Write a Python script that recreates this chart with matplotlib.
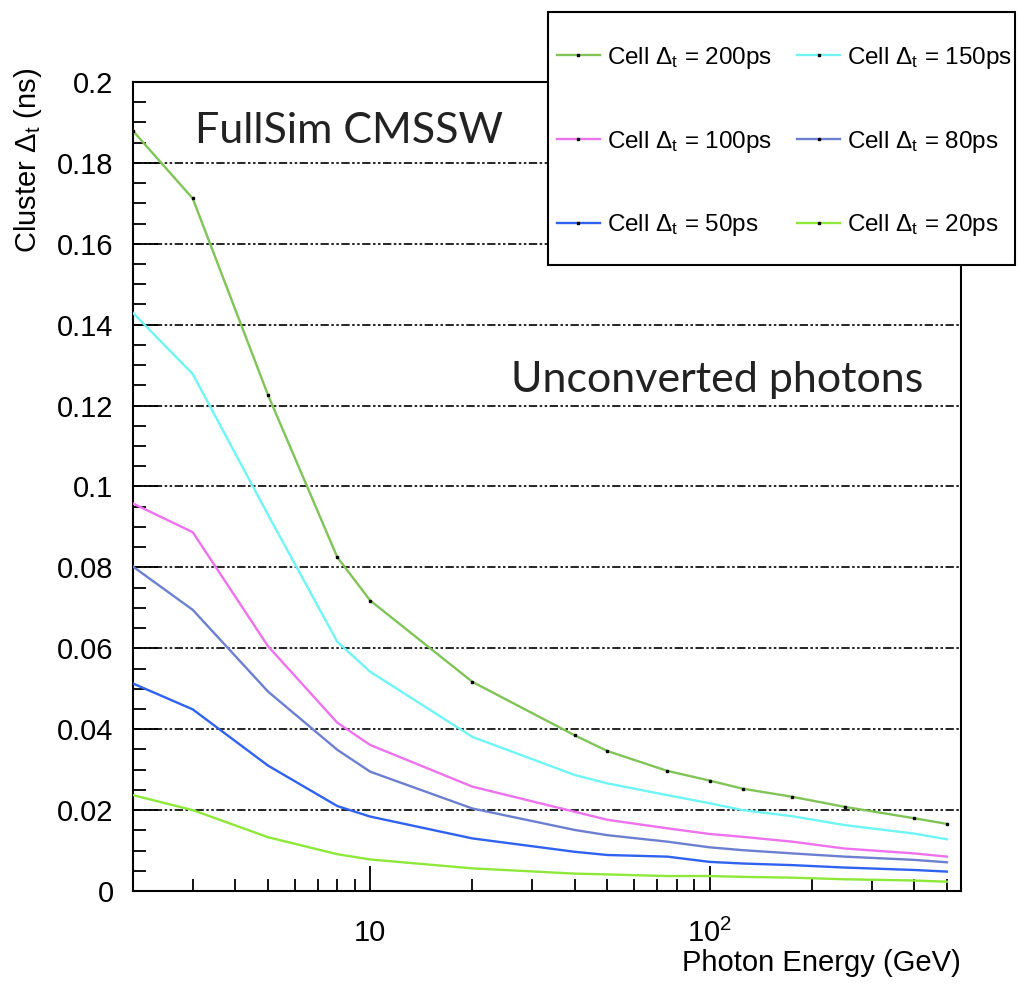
import matplotlib
matplotlib.use("Agg")
import matplotlib.pyplot as plt
from matplotlib.lines import Line2D
from matplotlib.patches import Rectangle
from matplotlib.ticker import LogLocator, MultipleLocator, FuncFormatter, NullFormatter

plt.rcParams['font.family'] = ['Liberation Sans', 'DejaVu Sans']
plt.rcParams['mathtext.fontset'] = 'custom'
plt.rcParams['mathtext.rm'] = 'Liberation Sans'
plt.rcParams['mathtext.it'] = 'Liberation Sans'

energy = [2, 3, 5, 8, 10, 20, 40, 50, 75, 100, 125, 175, 250, 400, 500]

dt_200 = [0.1879, 0.1712, 0.1226, 0.0825, 0.0718, 0.0517, 0.0385, 0.0346, 0.0297,
          0.0273, 0.0253, 0.0233, 0.0208, 0.0180, 0.0166]
dt_150 = [0.1429, 0.1278, 0.0930, 0.0616, 0.0542, 0.0381, 0.0287, 0.0266, 0.0237,
          0.0217, 0.0200, 0.0185, 0.0163, 0.0142, 0.0128]
dt_100 = [0.0958, 0.0887, 0.0605, 0.0416, 0.0361, 0.0258, 0.0196, 0.0176, 0.0155,
          0.0141, 0.0134, 0.0122, 0.0105, 0.0093, 0.0085]
dt_80 = [0.0802, 0.0695, 0.0493, 0.0349, 0.0295, 0.0204, 0.0151, 0.0138, 0.0122,
         0.0108, 0.0101, 0.0093, 0.0085, 0.0077, 0.0071]
dt_50 = [0.0513, 0.0449, 0.0310, 0.0210, 0.0184, 0.0130, 0.0097, 0.0089, 0.0085,
         0.0072, 0.0068, 0.0064, 0.0058, 0.0052, 0.0048]
dt_20 = [0.0237, 0.0200, 0.0133, 0.0091, 0.0078, 0.0056, 0.0043, 0.0041, 0.0037,
         0.0037, 0.0035, 0.0033, 0.0029, 0.0026, 0.0023]

labels = [r"Cell $\Delta_t$ = 200ps", r"Cell $\Delta_t$ = 150ps",
          r"Cell $\Delta_t$ = 100ps", r"Cell $\Delta_t$ = 80ps",
          r"Cell $\Delta_t$ = 50ps", r"Cell $\Delta_t$ = 20ps"]
series = [dt_200, dt_150, dt_100, dt_80, dt_50, dt_20]
colors = ['#80c457', '#6ff5f5', '#ee72ee', '#6d7fd0', '#2f62f0', '#8de83a']

fig = plt.figure(figsize=(10.19, 9.84), dpi=100)
ax = fig.add_axes([0.1305, 0.0945, 0.8125, 0.8222])

for i, (vals, c) in enumerate(zip(series, colors)):
    if i == 0:
        ax.plot(energy, vals, color=c, lw=1.7, marker='s', ms=1.6,
                mfc='black', mec='black', zorder=3)
    else:
        ax.plot(energy, vals, color=c, lw=1.7, zorder=3)

ax.set_xscale('log')
ax.set_xlim(2, 550)
ax.set_ylim(0, 0.2)

ax.yaxis.set_major_locator(MultipleLocator(0.02))
ax.yaxis.set_minor_locator(MultipleLocator(0.005))
ax.yaxis.set_major_formatter(FuncFormatter(lambda v, p: "0" if abs(v) < 1e-9 else ("%g" % round(v, 3))))

ax.xaxis.set_major_locator(LogLocator(base=10))
ax.xaxis.set_minor_locator(LogLocator(base=10, subs=range(2, 10)))
ax.xaxis.set_major_formatter(FuncFormatter(lambda v, p: "10" if abs(v - 10) < 1e-6 else (r"$10^{2}$" if abs(v - 100) < 1e-6 else "")))
ax.xaxis.set_minor_formatter(NullFormatter())

ax.tick_params(axis='both', which='major', direction='in', length=18, width=1.3, labelsize=21)
ax.tick_params(axis='both', which='minor', direction='in', length=9, width=1.3)
ax.tick_params(axis='y', which='both', right=False, pad=14)
ax.tick_params(axis='x', which='both', top=False, pad=20)

for s in ax.spines.values():
    s.set_linewidth(1.5)
    s.set_color('black')

ax.yaxis.grid(True, which='major', color='black', lw=1.2,
              linestyle=(0, (5, 1.5, 1.5, 1.5, 1.5, 1.5)), zorder=1)
ax.set_axisbelow(True)

ax.set_ylabel(r"Cluster $\Delta_t$ (ns)", fontsize=21, ha='right')
ax.yaxis.set_label_coords(-0.108, 1.017)
ax.set_xlabel("Photon Energy (GeV)", fontsize=21, ha='right')
ax.xaxis.set_label_coords(1.0, -0.072)

ax.text(0.075, 0.925, "FullSim CMSSW", transform=ax.transAxes, fontsize=31,
        family=['Lato', 'DejaVu Sans'], va='baseline', ha='left', color='#222222')
ax.text(0.457, 0.617, "Unconverted photons", transform=ax.transAxes, fontsize=31,
        family=['Lato', 'DejaVu Sans'], va='baseline', ha='left', color='#222222')

# legend box (drawn over the frame, extending outside the axes)
box = Rectangle((0.5378, 0.7307), 0.4582, 0.2571, transform=fig.transFigure,
                facecolor='white', edgecolor='black', lw=1.5, zorder=4)
fig.add_artist(box)

# legend filled row-wise: 200 | 150, 100 | 80, 50 | 20
order = [0, 2, 4, 1, 3, 5]
handles = [Line2D([0], [0], color=colors[k], lw=1.7, marker='s', ms=1.6,
                  mfc='black', mec='black') for k in order]
leg_labels = [labels[k] for k in order]
leg = fig.legend(handles, leg_labels, ncol=2, loc='upper left',
                 bbox_to_anchor=(557 / 1019, 1 - 45 / 984),
                 borderaxespad=0, borderpad=0, fontsize=17.5, frameon=False,
                 labelspacing=2.37, handlelength=1.75, handletextpad=0.3,
                 columnspacing=1.05)
leg.set_zorder(5)

fig.savefig("out.png", dpi=100)
